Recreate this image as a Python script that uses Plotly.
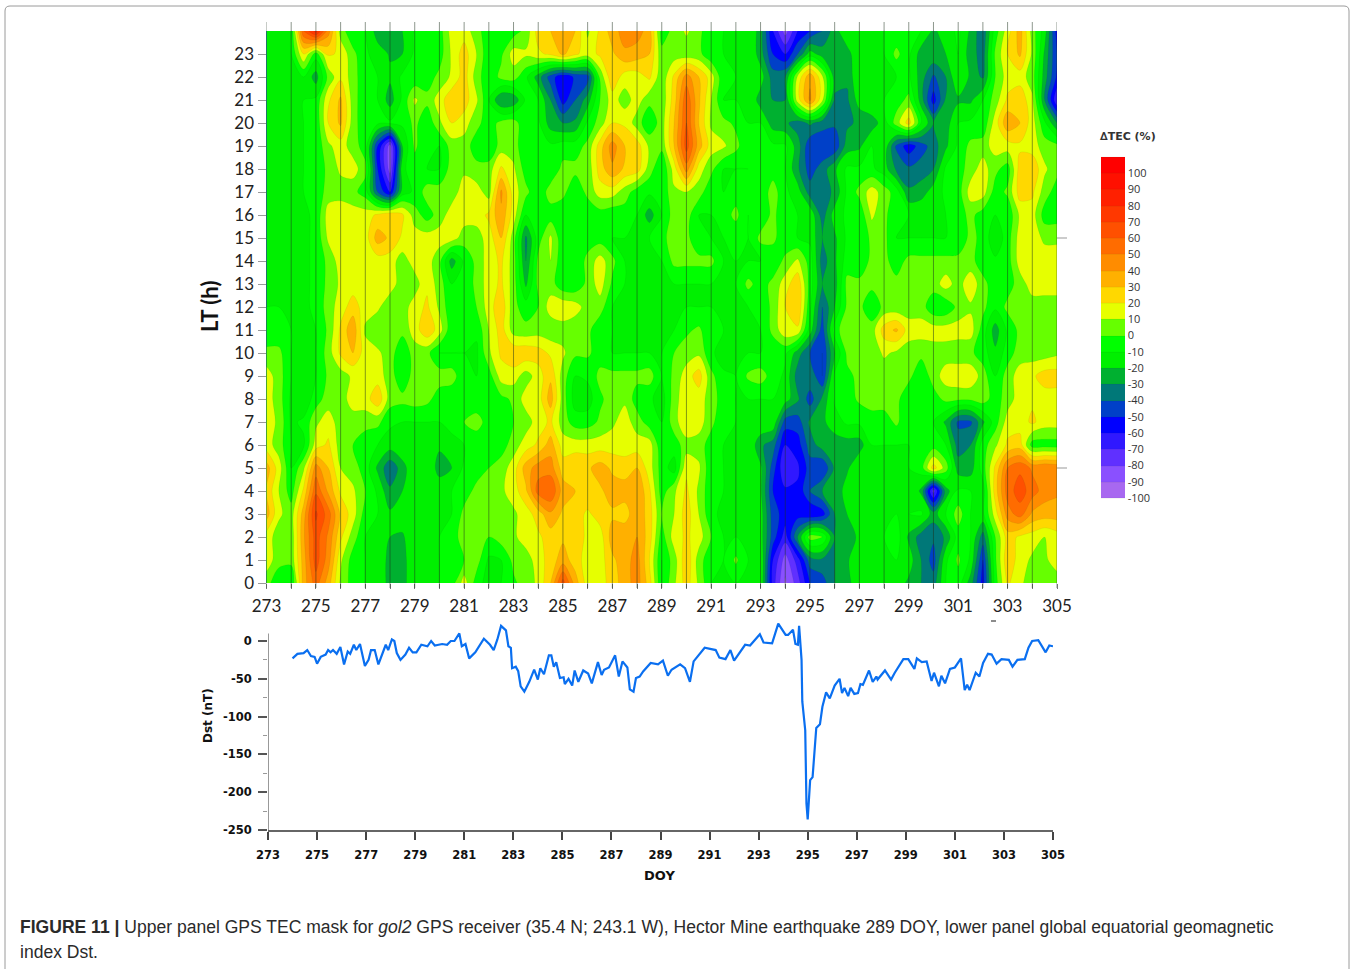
import plotly.graph_objects as go

W, H = 1352, 969

doy_grid = [273 + i * 0.5 for i in range(65)]
lt_grid = list(range(25))
day_ticks = list(range(273, 306))
lab_days = list(range(273, 306, 2))
lt_ticks = list(range(24))
cbar_ticks = list(range(-100, 101, 10))
dst_ticks = [0, -50, -100, -150, -200, -250]

band_colors = ["#a868f0", "#8a50ff", "#6030ff", "#3018ff", "#0000ff", "#0040c8", "#007878",
               "#00b030", "#00f000", "#00ff00", "#66ff00", "#e6ff00", "#ffd800", "#ffb000",
               "#ff8c00", "#ff6c00", "#ff5000", "#ff3800", "#ff2000", "#ff1000", "#ff0000"]

tec_rows = [
 # LT 0
 [5,-10,-10,35,55,35,8,-5,-10,-10, -25,-25,-10,-10,-10,-5,15,-5,-15,-10, -2,5,12,30,65,35,15,15,25,35,
  45,25,-10,8,25,8,-10,-10,-10,-10, -10,-65,-92,-75,-50,-45,-30,-25,-10,-10, -10,-15,-22,-30,-35,-10,-5,-25,-55,-5, 22,12,5,5,5],
 # LT 1
 [15,5,3,35,65,45,12,-5,-10,-10, -25,-25,-10,-12,-10,-8,0,5,-12,-10, 3,5,15,25,35,25,15,15,28,35,
  45,20,-10,5,28,5,-8,-10,2,-10, -10,-60,-85,-65,-35,-32,-30,-22,-10,-10, -10,-10,-15,-30,-45,-12,2,-12,-50,-2, 28,15,8,8,15],
 # LT 2
 [15,5,3,38,65,48,22,5,-10,-10, -20,-22,-10,-10,-10,-5,5,5,0,5, 8,15,18,25,28,25,18,15,35,38,
  40,25,-5,15,22,15,0,-10,-10,-10, -15,-45,-65,-30,5,0,-30,-25,-18,-10, -10,-5,-22,-35,-38,-28,-5,-10,-35,0, 25,18,15,10,15],
 # LT 3
 [35,12,5,35,72,55,28,15,-5,-10, -18,-12,-10,-10,-10,-10,3,5,5,5, 8,15,25,38,28,25,18,25,28,25,
  38,25,0,10,25,10,-8,-12,-10,-10, -15,-45,-55,-55,-60,-55,-30,-20,-10,-10, -10,-10,-10,-8,-25,-10,5,-10,-12,15, 45,55,38,35,35],
 # LT 4
 [28,10,-5,22,58,38,18,12,0,-12, -28,-20,-10,-10,-12,-10,-5,3,5,8, 15,28,55,60,35,30,28,28,35,35,
  40,22,-5,8,22,8,-8,-10,-10,-10, -18,-50,-58,-58,-40,-30,-28,-15,-10,-10, -10,-10,-10,-22,-75,-25,-8,-10,-15,25, 55,65,55,45,42],
 # LT 5
 [35,15,-10,8,45,30,10,5,-5,-22, -38,-25,-10,-10,-25,-20,-8,-5,0,5, 15,35,45,45,25,30,28,35,28,25,
  30,15,-5,-15,18,12,-8,-10,-10,-10, -18,-45,-70,-62,-45,-50,-28,-22,-10,-10, -10,-10,-10,-5,25,5,-25,-25,-5,22, 50,58,48,50,48],
 # LT 6
 [15,5,-10,-12,15,22,5,0,-8,-10, -15,-10,-12,-10,-18,-12,-10,-8,-8,-5, 5,15,22,35,15,15,15,15,15,15,
  15,15,-8,-5,5,5,-5,-10,-10,-10, -28,-35,-60,-55,-35,-25,-25,-25,-25,-10, -10,-10,-10,-8,-5,-10,-35,-30,-5,8, 22,25,-5,-5,-5],
 # LT 7
 [15,8,-12,-8,8,15,5,5,5,3, -8,-10,-10,-10,-10,-8,0,5,-5,-8, 0,5,15,22,5,-5,-5,2,8,15,
  5,-5,-10,5,20,15,3,-8,-10,-10, -10,-12,-45,-45,-28,-22,-15,-8,-8,-5, -5,2,-8,-5,-10,-22,-42,-42,-22,-5, 15,15,22,15,15],
 # LT 8
 [15,5,-12,-18,-5,5,5,15,15,28, 5,3,5,3,-5,-8,-8,-8,-5,-3, 2,15,15,35,5,-15,-15,-2,5,8,
  -5,-8,-15,5,18,15,5,-5,-10,-10, -10,-10,-15,-28,-45,-28,-8,-5,2,5, 5,3,-8,-5,-5,3,2,2,5,-5, 5,15,18,15,15],
 # LT 9
 [15,5,-10,-12,-10,2,5,12,12,15, 5,-8,5,5,5,5,-8,-10,-5,15, 15,5,15,28,5,-10,-8,3,3,3,
  3,5,-10,3,15,25,3,-8,-10,2, 5,-5,-12,-35,-32,-50,-8,-2,2,3, 3,5,3,-8,5,15,18,18,5,-10, 5,15,18,25,25],
 # LT 10
 [3,3,-10,-12,-10,5,22,30,15,12, 5,-8,5,3,-10,-10,-10,-12,8,22, 28,28,25,18,12,2,2,-5,-10,-10,
  -10,-10,-10,0,5,8,-8,-15,-10,-10, -10,-8,-8,-25,-40,-50,-20,2,3,3, 12,8,5,3,5,5,3,2,-5,-18, -5,5,5,5,8],
 # LT 11
 [-8,-8,-10,-12,-10,2,22,38,8,2, 3,3,15,28,15,-8,-8,-8,10,25, 5,3,5,3,5,2,3,-8,-10,-10,
  -10,-10,-10,-10,-2,2,-8,-10,-10,-10, -10,3,18,18,-15,-45,-5,8,3,5, 25,32,15,15,15,15,15,15,-5,-25, -8,3,5,5,5],
 # LT 12
 [-10,-10,-12,-12,-8,5,15,25,15,12, 3,5,15,22,8,-8,-8,0,15,28, 3,-5,0,15,18,15,5,5,-10,-10,
  -10,-10,-10,-10,-10,-10,-10,-12,-12,-10, -8,3,20,30,-8,-40,-20,2,3,-8, 3,3,5,5,-8,-8,3,8,3,-8, 3,5,5,5,5],
 # LT 13
 [-10,-10,-12,-12,-8,3,12,15,15,15, 15,5,5,18,5,-10,-8,3,15,22, 5,-22,3,5,-8,-8,3,15,-2,-10,
  -10,-10,-10,-10,-10,-10,-10,-10,-10,3, -5,3,15,28,-5,-30,-25,3,3,3, 3,3,3,3,5,15,5,18,3,-5, -5,5,15,15,15],
 # LT 14
 [-10,-10,-10,-12,-8,3,15,15,15,15, 15,5,15,15,3,-25,-8,3,15,22, 5,-30,3,10,-8,-8,3,15,3,-10,
  -10,-20,-10,3,3,3,3,-10,-10,-10, -10,-8,3,12,-5,-35,-22,-5,-8,3, 3,-5,3,3,3,3,3,3,-5,-8, -5,15,15,15,15],
 # LT 15
 [-10,-10,-10,-12,-8,12,15,15,15,35, 28,18,15,15,15,15,5,5,15,30, 5,-32,-5,12,-8,-8,-5,-5,-10,-10,
  -10,-10,-5,8,3,-8,-10,-10,-8,-10, 3,3,-8,-10,-12,-30,-22,-8,-10,3, 3,-10,-10,-10,-10,-10,-8,3,-3,-18, -5,15,15,8,8],
 # LT 16
 [-10,-10,-10,-12,-8,15,18,15,15,22, 28,22,5,-5,5,15,15,15,22,38, 15,-10,-5,-5,-8,-10,-8,-5,-8,-5,
  -10,-25,-10,5,5,-10,-10,-5,3,-10, -8,3,-8,-10,-12,-35,-15,-8,-8,12, 3,-8,-10,-10,-10,-10,-5,3,-5,-10, -8,12,15,-5,-5],
 # LT 17
 [-10,-10,-15,-10,-8,5,5,3,-5,-40, -60,-15,-8,5,5,5,15,15,5,42, 15,3,-8,5,3,-8,3,15,15,5,
  -5,-8,-8,8,10,5,-8,-10,-5,-8, -8,5,-8,-15,-35,-35,-28,-8,3,15, 5,-5,-28,-25,-15,-8,-5,15,15,-5, 2,25,22,5,-5],
 # LT 18
 [-10,-12,-12,-10,-8,3,12,15,3,-50, -85,-12,-5,-10,-10,5,8,3,5,22, 12,-5,-8,-8,3,3,3,25,38,28,
  25,5,-10,15,45,15,3,-10,-10,-10, -8,-5,-10,-28,-45,-35,-22,-8,-8,-8, -15,-32,-38,-35,-30,-8,-5,5,15,3, -5,25,28,12,3],
 # LT 19
 [-10,-10,-10,-10,-8,8,15,5,-5,-50, -85,-20,2,-8,-10,5,5,-5,-10,5, 5,-8,-8,-8,-5,-5,3,25,45,30,
  25,8,3,30,65,35,15,12,3,-8, -8,-8,-8,-25,-48,-50,-48,-25,-22,-10, -12,-42,-56,-45,-35,-22,-8,3,5,15, 15,18,15,5,3],
 # LT 20
 [-10,-10,-10,-10,-8,20,32,5,-8,-8, -8,-8,3,-8,8,20,15,3,-5,3, 5,-8,-8,-25,-30,-28,-8,5,20,18,
  5,-8,5,30,60,30,8,3,-2,-10, -10,-25,-28,-35,-28,-35,-38,-32,-28,-25, -15,5,25,-8,-30,-25,-10,-8,-8,15, 38,30,15,-8,-30],
 # LT 21
 [-10,-10,-10,-10,-8,18,32,5,-8,-10, -25,-8,12,3,15,28,25,12,-10,-30, -28,-8,-10,-30,-55,-40,-25,0,15,5,
  15,3,3,25,58,32,10,-10,-10,-10, -25,-30,-30,15,42,12,-32,-32,-15,-10, -10,-5,3,-25,-55,-28,-22,-22,-10,5, 22,28,12,-30,-70],
 # LT 22
 [-10,-10,-10,-10,-25,3,18,5,-8,-10, -18,-8,-8,-5,3,12,25,5,-8,3, 5,-8,-25,-45,-58,-48,-45,3,28,15,
  15,22,3,22,45,30,15,-8,-10,-10, -15,-35,-30,12,38,12,-25,-28,-10,-10, -10,-10,-8,-25,-42,-30,-10,-22,-32,0, 15,15,5,-25,-52],
 # LT 23
 [-15,-12,-10,20,-5,22,18,3,-8,-15, -21,-20,-8,-5,-5,12,25,10,-8,-2, 15,12,18,22,32,22,15,22,28,38,
  35,30,3,5,3,3,-8,-10,-10,-10, -25,-50,-60,-40,-15,-25,-30,-25,-10,-10, -10,3,-8,-25,-22,-20,-10,-25,-35,2, 20,32,8,-22,-50],
 # LT 24
 [-10,-10,-10,60,85,45,5,-8,-10,-25, -25,-20,-10,-10,-5,15,15,5,-8,-5, -5,3,25,30,40,30,8,22,35,45,
  45,35,-5,3,12,3,-8,-10,-10,-10, -25,-60,-85,-60,-50,-40,-25,-10,-10,-10, -10,-8,-8,-10,-22,-15,-8,-22,-38,-5, 15,35,5,-15,-55],
]

dst_doy = [274,274.2,274.45,274.6,274.75,274.9,275,275.15,275.35,275.45,275.55,275.65,275.8,275.95,276.1,276.25,276.35,276.5,276.6,276.75,
           276.95,277.1,277.2,277.35,277.5,277.65,277.8,277.9,278.05,278.15,278.25,278.4,278.6,278.75,278.9,279.05,279.25,279.5,279.65,279.8,
           280.1,280.3,280.45,280.6,280.8,280.9,281.05,281.2,281.45,281.8,282.05,282.2,282.35,282.5,282.7,282.8,282.9,282.95,283.1,283.2,
           283.3,283.45,283.65,283.85,284,284.1,284.25,284.45,284.55,284.65,284.75,284.9,285.05,285.1,285.25,285.4,285.5,285.65,285.85,286.05,
           286.2,286.45,286.6,286.7,286.9,287.15,287.3,287.45,287.65,287.75,287.9,288,288.15,288.3,288.6,288.9,289.1,289.3,289.45,289.8,
           290,290.2,290.35,290.8,291.25,291.4,291.65,291.85,292,292.45,292.65,293.05,293.2,293.55,293.8,294.1,294.2,294.4,294.5,294.6,
           294.65,294.75,294.78,294.9,294.95,295,295.05,295.1,295.2,295.3,295.35,295.5,295.6,295.75,295.9,296.1,296.3,296.4,296.5,296.65,
           296.75,296.9,297.05,297.15,297.25,297.5,297.65,297.8,297.85,298.15,298.4,298.55,298.9,299.1,299.35,299.45,299.65,299.85,300.05,300.15,
           300.35,300.45,300.6,300.8,301,301.25,301.4,301.5,301.6,301.85,302,302.15,302.35,302.5,302.7,302.9,303.2,303.35,303.55,303.85,
           304,304.15,304.4,304.7,304.85,305]
dst_nt = [-23,-17,-16,-12,-20,-21,-30,-21,-18,-12,-15,-12,-17,-8,-31,-14,-17,-5,-12,-4,
          -33,-25,-12,-12,-31,-18,-5,-12,2,0,-16,-25,-18,-9,-15,-15,-5,-7,0,-6,
          -4,-5,0,0,10,-7,-4,-23,-15,3,-5,-12,2,20,14,-7,-9,-36,-34,-40,
          -60,-67,-54,-38,-51,-36,-44,-19,-19,-34,-28,-49,-48,-57,-50,-59,-39,-54,-39,-43,
          -56,-28,-45,-38,-35,-19,-47,-27,-35,-64,-67,-49,-47,-40,-29,-31,-26,-46,-38,-31,
          -36,-54,-27,-9,-12,-22,-24,-12,-26,-5,-6,9,-2,-3,23,8,8,15,-4,-5,
          20,-25,-80,-118,-215,-236,-213,-184,-180,-140,-115,-110,-87,-68,-76,-59,-50,-69,-62,-73,
          -62,-70,-69,-57,-58,-39,-54,-47,-51,-39,-51,-42,-24,-24,-37,-23,-28,-27,-53,-42,
          -60,-46,-56,-37,-35,-23,-65,-58,-65,-42,-47,-29,-17,-18,-30,-24,-25,-34,-25,-24,
          -9,0,1,-15,-6,-7]


def px(x):
    return x / W


def py(y):
    return 1 - y / H


n = len(band_colors)
colorscale = []
for i, c in enumerate(band_colors):
    colorscale += [[i / n, c], [(i + 1) / n, c]]

fig = go.Figure()
fig.add_trace(go.Contour(
    x=doy_grid, y=lt_grid, z=tec_rows, xaxis="x", yaxis="y",
    zauto=False, zmin=-100, zmax=110, colorscale=colorscale,
    contours=dict(start=-100, end=110, size=10, coloring="fill", showlines=True),
    line=dict(width=0.4, color="rgba(0,60,0,0.16)", smoothing=0.9),
    hoverinfo="skip",
    colorbar=dict(
        x=px(1101), xanchor="left", xpad=0, ypad=0, thickness=24, thicknessmode="pixels",
        len=341, lenmode="pixels", y=py(327.5), yanchor="middle",
        tickmode="array", tickvals=cbar_ticks, ticktext=[str(v) for v in cbar_ticks],
        ticks="", outlinewidth=0, ticklabelposition="outside",
        tickfont=dict(family="Open Sans", size=11, color="#333"),
    ),
))
fig.add_trace(go.Scatter(
    x=dst_doy, y=dst_nt, xaxis="x2", yaxis="y2", mode="lines",
    line=dict(color="#0a6ff0", width=2.2), showlegend=False, hoverinfo="skip",
))

shapes = []
for d in day_ticks:
    shapes.append(dict(type="line", xref="x", yref="paper", x0=d, x1=d, y0=py(588), y1=py(22),
                       line=dict(color="rgba(30,50,30,0.5)", width=1), layer="above"))
for lt in (5, 15):
    shapes.append(dict(type="line", xref="paper", yref="y", x0=px(1057), x1=px(1067), y0=lt, y1=lt,
                       line=dict(color="#999", width=1)))
shapes.append(dict(type="line", xref="paper", yref="paper", x0=px(991), x1=px(996), y0=py(621), y1=py(621),
                   line=dict(color="#666", width=1.5)))
shapes.append(dict(type="line", xref="x2", yref="y2", x0=273, x1=273, y0=-250, y1=10,
                   line=dict(color="#999", width=2)))
shapes.append(dict(type="path", xref="paper", yref="paper",
                   path=f"M {px(5)} 0 L {px(5)} {py(11)} Q {px(5)} {py(6)} {px(10)} {py(6)} "
                        f"L {px(1344)} {py(6)} Q {px(1349)} {py(6)} {px(1349)} {py(11)} L {px(1349)} 0",
                   line=dict(color="#9a9a9a", width=1)))

annot = [
    dict(text="<b>LT (h)</b>", x=px(209), y=py(307), textangle=-90,
         font=dict(family="Lato", size=22, color="#111")),
    dict(text="<b>∆TEC (%)</b>", x=px(1128), y=py(136),
         font=dict(family="DejaVu Sans", size=11, color="#333")),
    dict(text="<b>Dst (nT)</b>", x=px(208), y=py(716), textangle=-90,
         font=dict(family="DejaVu Sans", size=12, color="#111")),
    dict(text="<b>DOY</b>", x=px(659), y=py(875),
         font=dict(family="DejaVu Sans", size=13, color="#111")),
    dict(text="<b>FIGURE 11 |</b> Upper panel GPS TEC mask for <i>gol2</i> GPS receiver (35.4 N; 243.1 W), "
              "Hector Mine earthquake 289 DOY, lower panel global equatorial geomagnetic",
         x=px(18), y=py(927), xanchor="left",
         font=dict(family="Liberation Sans", size=17.55, color="#2a2a2a")),
    dict(text="index Dst.", x=px(18), y=py(952), xanchor="left",
         font=dict(family="Liberation Sans", size=17.55, color="#2a2a2a")),
]
for a in annot:
    a.update(xref="paper", yref="paper", showarrow=False, yanchor="middle")
    a.setdefault("xanchor", "center")

lab_font = dict(family="Lato", size=17, color="#222")
bold_font = dict(family="DejaVu Sans", size=11.5, color="#111")
fig.update_layout(
    template="none",
    width=W, height=H, autosize=False, margin=dict(l=0, r=0, t=0, b=0),
    paper_bgcolor="white", plot_bgcolor="white", showlegend=False,
    shapes=shapes, annotations=annot,
    xaxis=dict(domain=[px(266.5), px(1057)], range=[273, 305], tickmode="array", automargin=False,
               tickvals=day_ticks, ticktext=[str(d) if d in lab_days else "" for d in day_ticks],
               ticks="outside", ticklen=5, tickcolor="#777", showgrid=False, zeroline=False,
               ticklabelstandoff=3, tickfont=lab_font, anchor="y"),
    yaxis=dict(domain=[py(583), py(31)], range=[0, 24], tickmode="array", tickvals=lt_ticks, automargin=False,
               ticktext=[str(v) for v in lt_ticks], ticks="outside", ticklen=8, tickcolor="#999",
               showgrid=False, zeroline=False, tickfont=lab_font, anchor="x"),
    xaxis2=dict(domain=[px(268), px(1053)], range=[273, 305], tickmode="array", tickvals=lab_days, automargin=False,
                ticktext=[f"<b>{d}</b>" for d in lab_days], ticks="outside", ticklen=8, tickwidth=2,
                tickcolor="#444", showline=True, linecolor="#666", linewidth=2, showgrid=False,
                ticklabelstandoff=5, zeroline=False, tickfont=bold_font, anchor="y2"),
    yaxis2=dict(domain=[py(830), py(622)], range=[-250, 25.1], tickmode="array", tickvals=dst_ticks, automargin=False,
                ticktext=[f"<b>{v}</b>" for v in dst_ticks], ticks="outside", ticklen=9, tickwidth=2,
                tickcolor="#555", showline=False, showgrid=False, ticklabelstandoff=4,
                zeroline=False, tickfont=bold_font, anchor="x2",
                minor=dict(tickvals=[-25, -75, -125, -175, -225], ticks="outside", ticklen=4,
                           tickcolor="#999", tickwidth=1)),
)

fig.write_html("out.html", config={"displayModeBar": False},
               post_script="document.body.style.margin='0';")
